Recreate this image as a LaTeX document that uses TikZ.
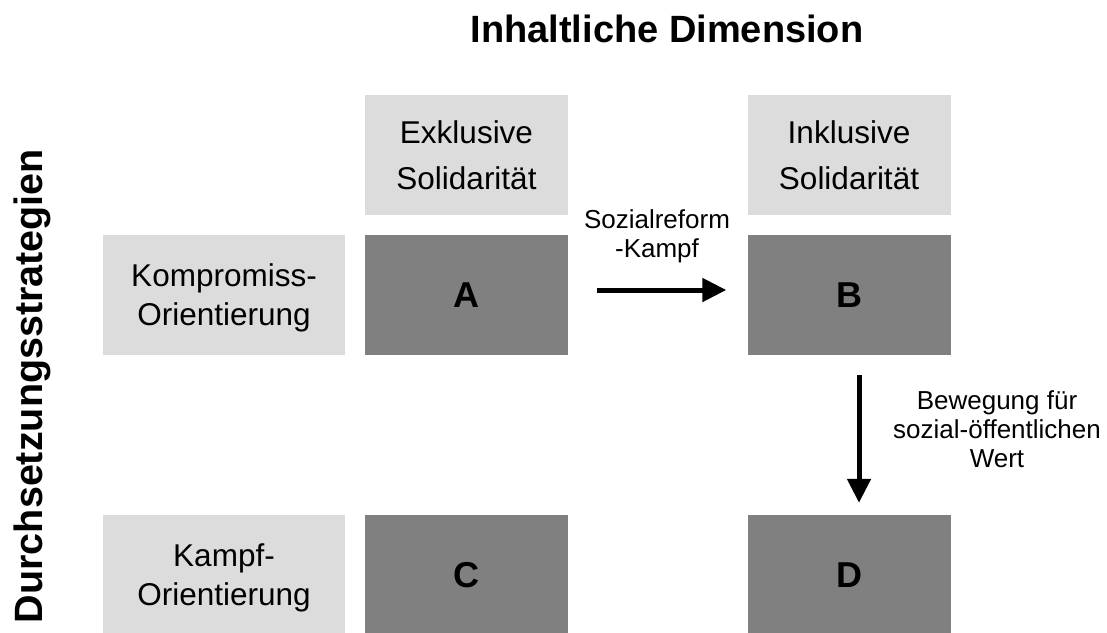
\documentclass[tikz,border=0pt]{standalone}
\usepackage{fontspec}
\setmainfont{Liberation Sans}
\usetikzlibrary{arrows.meta}

\definecolor{hellgrau}{HTML}{DCDCDC}
\definecolor{dunkelgrau}{HTML}{808080}

\begin{document}
\begin{tikzpicture}[x=1pt,y=-1pt,
    kopf/.style={fill=hellgrau, minimum width=203pt, minimum height=120pt,
      inner sep=0pt, align=center, font=\fontsize{31.5}{46}\selectfont},
    zeile/.style={kopf, minimum width=242pt, text depth=0pt,
      font=\fontsize{31.5}{39}\selectfont},
    feld/.style={fill=dunkelgrau, minimum width=203pt, minimum height=120pt,
      inner sep=0pt, font=\fontsize{36}{40}\selectfont\bfseries},
    pfeil/.style={line width=5pt, -{Triangle[length=24pt,width=23pt]}},
    marke/.style={align=center, inner sep=0pt, font=\fontsize{26}{29}\selectfont}]
    \clip (0,0) rectangle (1107,632);
    % titles
    \node[font=\fontsize{38}{40}\selectfont\bfseries] (titel) at (667,29) {Inhaltliche Dimension};
    \node[font=\fontsize{39.5}{42}\selectfont\bfseries, rotate=90] (seite) at (32,386) {Durchsetzungsstrategien};
    % header row and column
    \node[kopf] (exkl) at (466.5,155) {Exklusive\\Solidarität};
    \node[kopf] (inkl) at (849,155) {Inklusive\\Solidarität};
    \node[zeile] (komp) at (224,295) {Kompromiss-\\Orientierung};
    \node[zeile] (kampf) at (224,575) {Kampf-\\Orientierung};
    % fields
    \node[feld] (A) at (466.5,295) {A};
    \node[feld] (B) at (849,295) {B};
    \node[feld] (C) at (466.5,575) {C};
    \node[feld] (D) at (849,575) {D};
    % arrows
    \draw[pfeil] ([xshift=29pt,yshift=5pt]A.east) -- ([xshift=-21pt,yshift=5pt]B.west);
    \draw[pfeil] ([xshift=10pt,yshift=-20pt]B.south) -- ([xshift=10pt,yshift=12pt]D.north);
    \node[marke] (soz) at (657,236) {Sozialreform\\-Kampf};
    \node[marke] (bew) at (997,429) {Bewegung für\\sozial-öffentlichen\\Wert};
\end{tikzpicture}
\end{document}
